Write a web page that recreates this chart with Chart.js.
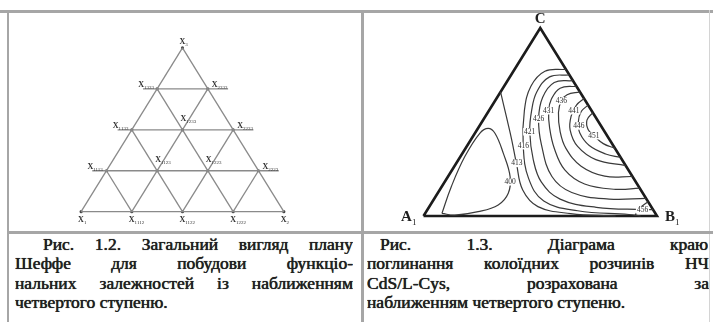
<!DOCTYPE html>
<html lang="uk">
<head>
  <meta charset="UTF-8">
  <title>Рис. 1.2 – 1.3</title>
  <script src="https://cdn.jsdelivr.net/npm/chart.js"></script>
  <style>
    body { margin: 0; background: #fff; }
    #page {
      position: relative; width: 713px; height: 322px; overflow: hidden;
      font-family: "Liberation Serif", "Times New Roman", serif; color: #1f1f1f;
    }
    .rule { position: absolute; background: #a6a6a6; }
    .ln {
      position: absolute; height: 20px; line-height: 20px; font-size: 17.5px;
      text-align: justify; text-align-last: justify; overflow: hidden;
      text-shadow: 0 0 0.8px #333, 0 0 0.4px #333;
    }
    .ln.last { text-align-last: left; }
    canvas { position: absolute; left: 0; top: 0; }
  </style>
</head>
<body>
<div id="page">
  <div class="rule" style="left:0;top:10px;width:713px;height:3px"></div>
  <div class="rule" style="left:7px;top:10px;width:2px;height:312px"></div>
  <div class="rule" style="left:361px;top:10px;width:3px;height:312px"></div>
  <div class="rule" style="left:709px;top:10px;width:1px;height:312px;background:#d4d4d4"></div>
  <div class="rule" style="left:7px;top:231px;width:706px;height:3px"></div>

  <div class="ln" style="left:43px;top:234px;width:310px">Рис. 1.2. Загальний вигляд плану</div>
  <div class="ln" style="left:15px;top:253px;width:338px">Шеффе для побудови функціо-</div>
  <div class="ln" style="left:15px;top:273px;width:338px">нальних залежностей із наближенням</div>
  <div class="ln last" style="left:15px;top:292px;width:338px">четвертого ступеню.</div>

  <div class="ln" style="left:380px;top:234px;width:328px">Рис. 1.3. Діаграма краю</div>
  <div class="ln" style="left:367px;top:253px;width:342px">поглинання колоїдних розчинів НЧ</div>
  <div class="ln" style="left:367px;top:273px;width:342px">CdS/L-Cys, розрахована за</div>
  <div class="ln last" style="left:367px;top:292px;width:342px">наближенням четвертого ступеню.</div>

  <canvas id="lattice" width="713" height="322"></canvas>
  <canvas id="edge" width="713" height="322"></canvas>
</div>
<script>
  // Рис. 1.2: Scheffé lattice of the 4th degree (fractions along the base / height)
  const levels = [0, 0.25, 0.5, 0.75, 1];
  const latticeSubs = [
    ['1', '1112', '1122', '1222', '2'],
    ['1113', '1123', '1223', '2223'],
    ['1133', '1233', '2233'],
    ['1333', '2333'],
    ['3']
  ];

  // Рис. 1.3: absorption edge isolines, [u along A1B1, v towards C]
  const isoValues = [400, 413, 416, 421, 426, 431, 436, 441, 446, 451, 456];
  const iso400 = [[0.079,0.014],[0.119,0.156],[0.177,0.316],[0.241,0.44],[0.277,0.466],[0.306,0.44],[0.342,0.333],[0.371,0.209],[0.363,0.121],[0.32,0.059],[0.234,0.023],[0.134,0.005],[0.079,0.014]];
  const iso413 = [[0.33,0.66],[0.355,0.528],[0.378,0.404],[0.398,0.28],[0.425,0.138],[0.49,0.05],[0.63,0.013],[0.823,0]];
  const iso416 = [[0.61,0.78],[0.52,0.77],[0.46,0.69],[0.432,0.56],[0.427,0.374],[0.45,0.2],[0.515,0.08],[0.66,0.028],[0.88,0.008],[0.93,0]];
  const iso421 = [[0.625,0.75],[0.54,0.74],[0.485,0.66],[0.463,0.56],[0.455,0.448],[0.47,0.3],[0.505,0.18],[0.585,0.09],[0.74,0.046],[0.94,0.034],[0.983,0.034]];
  const iso426 = [[0.64,0.72],[0.56,0.71],[0.51,0.63],[0.493,0.516],[0.505,0.38],[0.55,0.21],[0.635,0.125],[0.795,0.09],[0.953,0.094]];
  const iso431 = [[0.655,0.69],[0.585,0.68],[0.547,0.62],[0.536,0.56],[0.54,0.47],[0.56,0.36],[0.605,0.245],[0.69,0.17],[0.823,0.142],[0.926,0.148]];
  const iso436 = [[0.67,0.66],[0.615,0.645],[0.59,0.613],[0.578,0.55],[0.585,0.45],[0.61,0.36],[0.675,0.265],[0.776,0.212],[0.895,0.21]];
  const iso441 = [[0.688,0.625],[0.655,0.59],[0.632,0.53],[0.628,0.457],[0.66,0.37],[0.738,0.3],[0.866,0.268]];
  const iso446 = [[0.705,0.59],[0.675,0.555],[0.663,0.5],[0.67,0.44],[0.71,0.375],[0.78,0.33],[0.844,0.312]];
  const iso451 = [[0.725,0.55],[0.7,0.51],[0.705,0.46],[0.73,0.427],[0.77,0.385],[0.82,0.36]];
  const iso456 = [[0.905,0],[0.925,0.04],[0.962,0.076]];
  const isoLabelPos = [[0.371,0.182],[0.4,0.28],[0.428,0.374],[0.455,0.448],[0.493,0.516],[0.536,0.56],[0.59,0.613],[0.644,0.56],[0.665,0.479],[0.73,0.427],[0.938,0.032]];
  const isolines = [iso400, iso413, iso416, iso421, iso426, iso431, iso436, iso441, iso446, iso451, iso456];
  const triangle = [[0, 0], [1, 0], [0.5, 1], [0, 0]];
  const corners = [['A', '1', 0, 0], ['B', '1', 1, 0], ['C', '', 0.5, 1]];

  const W = 713, H = 322;
  // page pixels of the triangle corners: base left/right, base line, apex line
  function axes(f) {
    const ku = f.u1 - f.u0, kv = f.v0 - f.v1;
    return {
      x: { type: 'linear', display: false, min: -f.u0 / ku, max: (W - f.u0) / ku },
      y: { type: 'linear', display: false, min: (f.v0 - H) / kv, max: f.v0 / kv }
    };
  }

  function drawSub(ctx, px, py, main, sub, size, align) {
    ctx.font = 'bold ' + size + 'px "Liberation Serif", serif';
    const wm = ctx.measureText(main).width;
    const subSize = Math.max(4, Math.round(size * 0.6));
    ctx.font = subSize + 'px "Liberation Serif", serif';
    const ws = sub ? ctx.measureText(sub).width : 0;
    let x0 = px;
    if (align === 'center') x0 = px - wm / 2;
    if (align === 'right') x0 = px - wm - ws;
    ctx.textBaseline = 'middle';
    ctx.textAlign = 'left';
    ctx.font = 'bold ' + size + 'px "Liberation Serif", serif';
    ctx.fillText(main, x0, py);
    if (sub) {
      ctx.font = subSize + 'px "Liberation Serif", serif';
      ctx.fillText(sub, x0 + wm, py + size * 0.35);
    }
  }

  const marks = {
    id: 'marks',
    afterDatasetsDraw(chart, args, opts) {
      const { ctx, scales: { x, y } } = chart;
      ctx.save();
      (opts.items || []).forEach(m => {
        const px = x.getPixelForValue(m.u) + (m.dx || 0);
        const py = y.getPixelForValue(m.v) + (m.dy || 0);
        if (m.boxed) {
          ctx.font = m.size + 'px "Liberation Serif", serif';
          const w = ctx.measureText(m.text).width;
          ctx.fillStyle = '#fff';
          ctx.fillRect(px - w / 2 - 1, py - m.size / 2, w + 2, m.size);
          ctx.fillStyle = '#2c2c2c';
          ctx.textAlign = 'center';
          ctx.textBaseline = 'middle';
          ctx.fillText(m.text, px, py);
        } else {
          ctx.fillStyle = m.color || '#2a2a2a';
          drawSub(ctx, px, py, m.text, m.sub, m.size, m.align);
        }
      });
      ctx.restore();
    }
  };

  const base = {
    responsive: false, animation: false, events: [],
    layout: { padding: 0 },
    plugins: { legend: { display: false }, tooltip: { enabled: false } }
  };

  // ---- Рис. 1.2 ----
  const latticeLines = [];
  const latticeNodes = [];
  const latticeMarks = [];
  for (let r = 0; r < 4; r++) {
    const v = levels[r];
    const extL = r === 0 ? 0 : 0.07, extR = r === 0 ? 0 : 0.1;
    latticeLines.push([[v / 2 - extL, v], [1 - v / 2 + extR, v]]);
  }
  for (let k = 0; k < 4; k++) {
    const a = levels[k];
    latticeLines.push([[a, 0], [a + (1 - a) / 2, 1 - a]]);
  }
  for (let k = 1; k < 5; k++) {
    const a = levels[k];
    latticeLines.push([[a, 0], [a / 2, a]]);
  }
  latticeSubs.forEach((row, r) => {
    const v = levels[r];
    row.forEach((sub, k) => {
      const u = v / 2 + levels[k];
      latticeNodes.push({ x: u, y: v });
      let dx = -2, dy = -11;
      if (r === 0) { dx = -3; dy = 8; }
      else if (r === 4) { dx = -3; dy = -6; }
      else if (k === 0) { dx = -19; dy = -4; }
      else if (k === row.length - 1) { dx = 4; dy = -4; }
      latticeMarks.push({ u, v, dx, dy, text: 'X', sub, size: 8, color: '#333' });
    });
  });

  new Chart(document.getElementById('lattice'), {
    type: 'scatter',
    data: {
      datasets: latticeLines.map(seg => ({
        data: seg.map(p => ({ x: p[0], y: p[1] })),
        showLine: true, borderColor: '#8a8a8a', borderWidth: 1.3, pointRadius: 0
      })).concat([{
        data: latticeNodes, pointRadius: 1.6, pointBackgroundColor: '#444',
        pointBorderWidth: 0, showLine: false
      }])
    },
    options: Object.assign({}, base, {
      scales: axes({ u0: 78, u1: 283, v0: 213, v1: 45 }),
      plugins: Object.assign({}, base.plugins, { marks: { items: latticeMarks } })
    }),
    plugins: [marks]
  });

  // ---- Рис. 1.3 ----
  const edgeMarks = isoValues.map((val, i) => ({
    u: isoLabelPos[i][0], v: isoLabelPos[i][1], text: String(val), size: 7.5, boxed: true
  }));
  const cornerOffsets = { A: [-17, 1], B: [13, 1], C: [0, -9] };
  corners.forEach(c => {
    edgeMarks.push({
      u: c[2], v: c[3], text: c[0], sub: c[1], size: 15, align: 'center',
      dx: cornerOffsets[c[0]][0], dy: cornerOffsets[c[0]][1], color: '#1e1e1e'
    });
  });

  new Chart(document.getElementById('edge'), {
    type: 'scatter',
    data: {
      datasets: isolines.map(line => ({
        data: line.map(p => ({ x: p[0], y: p[1] })),
        showLine: true, borderColor: '#3a3a3a', borderWidth: 1.2, pointRadius: 0, tension: 0.4
      })).concat([{
        data: triangle.map(p => ({ x: p[0], y: p[1] })),
        showLine: true, borderColor: '#1c1c1c', borderWidth: 2.6, pointRadius: 0, tension: 0
      }])
    },
    options: Object.assign({}, base, {
      scales: axes({ u0: 423.5, u1: 657, v0: 216, v1: 28 }),
      plugins: Object.assign({}, base.plugins, { marks: { items: edgeMarks } })
    }),
    plugins: [marks]
  });
</script>
</body>
</html>
